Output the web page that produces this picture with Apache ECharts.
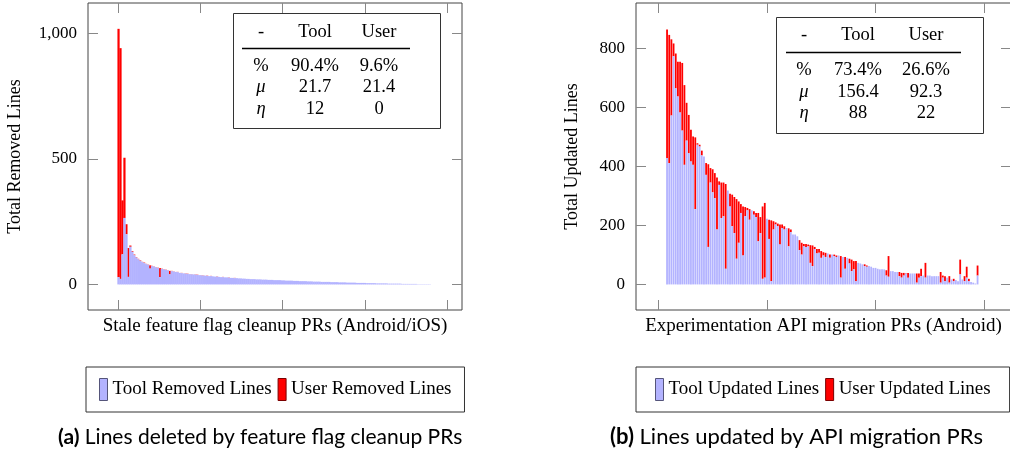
<!DOCTYPE html>
<html>
<head>
<meta charset="utf-8">
<script src="https://cdn.jsdelivr.net/npm/echarts@6/dist/echarts.min.js"></script>
<style>
html, body { margin: 0; padding: 0; background: #fff; }
#main { width: 1010px; height: 462px; }
</style>
</head>
<body>
<div id="main"></div>
<script>
// ---- (a) stale feature flag cleanup PRs, one bar per 12 PRs ----
var leftStep = 12;
var leftTool = [29,22,120,265,200,30,150,130,116,107,
    100,94,89,85,81,78,63,73,71,68,
    66,29,62,60,58,56,40,53,51,50,
    49,46,45,44,43,42,41,40,40,39,
    38,37,36,35,35,34,33,33,32,31,
    31,30,29,29,28,28,27,26,26,25,
    25,24,24,23,23,22,22,21,21,21,
    20,20,20,19,19,19,18,18,18,17,
    17,17,17,16,16,15,15,15,15,14,
    14,14,13,13,13,13,12,12,12,11,
    11,11,11,10,10,10,10,10,9,9,
    9,9,8,8,8,8,7,7,7,7,
    7,6,6,6,6,6,5,5,5,5,
    5,4,4,4,4,4,4,3,3,3,
    3,3,3,3,2,2,2,2,2,2,
    2,2,1,1,1,1,1,1,1,0];
var leftUser = [990,920,215,240,40,115,5,3,3,2,
    2,2,1,2,1,1,13,1,1,1,
    1,36,1,1,1,1,14,1,1,0,
    1,0,1,0,1,1,0,1,0,1,
    1,0,1,1,0,1,0,1,0,0,
    1,0,0,1,0,0,1,0,0,1];
var leftXTicks = [0, 500, 1000, 1500, 2000];
var leftYTicks = [0, 500, 1000];

// ---- (b) experimentation API migration PRs ----
var rightStart = 4;
var rightTool = [428,411,572,773,664,636,582,521,405,487,
    444,416,405,255,473,467,437,433,371,127,
    345,312,292,186,337,225,231,53,318,264,
    197,174,87,141,242,98,231,251,219,251,
    236,228,146,174,19,23,222,154,11,186,
    203,197,135,191,186,191,129,177,169,169,
    163,116,101,129,127,129,73,62,120,105,
    107,90,98,93,105,90,101,96,93,98,
    23,93,53,90,71,45,51,11,73,71,
    68,62,60,62,60,56,56,53,51,51,
    51,30,26,45,45,42,42,28,23,30,
    37,23,37,37,37,6,23,28,30,23,
    30,30,28,28,28,28,6,23,11,23,
    6,17,11,15,11,34,17,11,23,11,
    8,6,3,30];
var rightUser = [435,434,258,43,118,118,172,229,270,128,
    130,108,96,243,5,6,16,0,40,280,
    49,78,85,176,12,120,114,287,0,43,
    107,122,202,140,30,166,31,8,36,0,
    12,14,96,54,245,253,0,65,206,28,
    7,9,68,12,11,0,61,9,0,0,
    0,34,40,8,10,6,60,70,7,15,
    13,23,11,14,0,11,0,5,5,0,
    73,0,40,0,16,39,28,68,0,0,
    0,6,4,0,0,0,0,0,0,0,
    0,18,70,0,0,0,0,14,16,9,
    2,16,0,0,0,31,14,25,0,50,
    0,0,0,0,0,0,36,7,17,0,
    22,0,8,0,0,50,0,17,37,8,
    0,0,0,34];
var rightXTicks = [0, 50, 100, 150];
var rightYTicks = [0, 200, 400, 600, 800];

// summary tables
var leftTable = [['-', 'Tool', 'User'], ['%', '90.4%', '9.6%'], ['μ', '21.7', '21.4'], ['η', '12', '0']];
var rightTable = [['-', 'Tool', 'User'], ['%', '73.4%', '26.6%'], ['μ', '156.4', '92.3'], ['η', '88', '22']];

var SERIF = '"Liberation Serif", "DejaVu Serif", serif';
var SANS = 'Lato, "Noto Sans", sans-serif';
var BLUE = '#b3b3ff';
var RED = '#ff0000';

function pairs(arr, step, start) {
    return arr.map(function (v, i) { return [start + i * step, v]; });
}

// [x, tool, tool + user] : the user part is stacked on the tool bar
function stackedUser(tool, user, step, start) {
    return tool.map(function (v, i) { return [start + i * step, v, v + (user[i] || 0)]; });
}

// draws one user segment between tool and tool + user, width in px
function userSegment(width) {
    return function (params, api) {
        var lo = api.value(1), hi = api.value(2);
        if (hi <= lo) return null;
        var p0 = api.coord([api.value(0), lo]);
        var p1 = api.coord([api.value(0), hi]);
        return {
            type: 'rect',
            shape: {x: p0[0] - width / 2, y: p1[1], width: width, height: p0[1] - p1[1]},
            style: {fill: RED}
        };
    };
}

function fmtThousands(v) {
    return String(v).replace(/\B(?=(\d{3})+(?!\d))/g, ',');
}

// x axis for one panel, plus a mirrored one on top for the inner ticks
function xAxes(gridIndex, min, max, ticks, name) {
    var tick = {inside: true, length: 10, lineStyle: {color: '#888', width: 1}, customValues: ticks};
    return [{
        type: 'value', gridIndex: gridIndex, min: min, max: max, position: 'bottom',
        axisLine: {show: false, onZero: false}, axisTick: tick, axisLabel: {show: false}, splitLine: {show: false},
        name: name, nameLocation: 'middle', nameGap: 7,
        nameTextStyle: {fontFamily: SERIF, fontSize: 19, color: '#000', verticalAlign: 'top'}
    }, {
        type: 'value', gridIndex: gridIndex, min: min, max: max, position: 'top',
        axisLine: {show: false, onZero: false}, axisTick: tick, axisLabel: {show: false}, splitLine: {show: false}
    }];
}

function yAxes(gridIndex, min, max, ticks, name, gap) {
    var tick = {inside: true, length: 10, lineStyle: {color: '#888', width: 1}, customValues: ticks};
    return [{
        type: 'value', gridIndex: gridIndex, min: min, max: max, position: 'left',
        axisLine: {show: false, onZero: false}, axisTick: tick, splitLine: {show: false},
        axisLabel: {customValues: ticks, margin: 11, fontFamily: SERIF, fontSize: 17, color: '#000',
            formatter: fmtThousands},
        name: name, nameLocation: 'middle', nameGap: gap, nameRotate: 90,
        nameTextStyle: {fontFamily: SERIF, fontSize: 18, color: '#000'}
    }, {
        type: 'value', gridIndex: gridIndex, min: min, max: max, position: 'right',
        axisLine: {show: false, onZero: false}, axisTick: tick, axisLabel: {show: false}, splitLine: {show: false}
    }];
}

function buildTable(tbl, ox, oy, w, h, cols, rows, rule) {
    var children = [{
        type: 'rect', shape: {x: 0.5, y: 0.5, width: w, height: h},
        style: {fill: '#fff', stroke: '#333', lineWidth: 1}
    }, {
        type: 'line', shape: {x1: rule[0], y1: rule[2], x2: rule[1], y2: rule[2]},
        style: {stroke: '#000', lineWidth: 1.3}
    }];
    tbl.forEach(function (row, r) {
        row.forEach(function (txt, c) {
            children.push({
                type: 'text',
                style: {
                    text: txt, x: cols[c], y: rows[r], align: 'center', verticalAlign: 'middle',
                    fontFamily: SERIF, fontSize: 18.5, fill: '#000',
                    fontStyle: (r > 1 && c === 0) ? 'italic' : 'normal'
                }
            });
        });
    });
    return {type: 'group', x: ox, y: oy, z: 100, children: children};
}

function caption(tag, text, x, size) {
    return {
        type: 'text', z: 100,
        style: {
            text: '{b|' + tag + '} ' + text, x: x, y: 437, align: 'left', verticalAlign: 'middle',
            fontFamily: SANS, fontSize: size, fill: '#000',
            rich: {b: {fontWeight: 'bold', fontFamily: SANS, fontSize: size}}
        }
    };
}

function legendFor(names, left, pad, borders) {
    return {
        data: names.map(function (n, i) { return {name: n, itemStyle: {borderColor: borders[i], borderWidth: 1}}; }),
        left: left, top: 367, orient: 'horizontal',
        icon: 'rect', itemWidth: 8, itemHeight: 22, itemGap: 6,
        borderColor: '#333', borderWidth: 1, padding: [11, pad],
        selectedMode: false,
        textStyle: {fontFamily: SERIF, fontSize: 19, color: '#000'}
    };
}

var chart = echarts.init(document.getElementById('main'), null, {renderer: 'canvas'});

var option = {
    animation: false,
    backgroundColor: '#fff',
    grid: [
        {left: 88, top: 3, width: 374, height: 307, show: true, borderColor: '#444', borderWidth: 1,
            containLabel: false, outerBoundsMode: 'none'},
        {left: 636, top: 3, width: 375, height: 307, show: true, borderColor: '#444', borderWidth: 1,
            containLabel: false, outerBoundsMode: 'none'}
    ],
    xAxis: xAxes(0, -186, 2092, leftXTicks, 'Stale feature flag cleanup PRs (Android/iOS)')
        .concat(xAxes(1, -10.3, 162.4, rightXTicks, 'Experimentation API migration PRs (Android)')),
    yAxis: yAxes(0, -102, 1122, leftYTicks, 'Total Removed Lines', 64)
        .concat(yAxes(1, -86.6, 953, rightYTicks, 'Total Updated Lines', 55)),
    legend: [
        legendFor(['Tool Removed Lines', 'User Removed Lines'], 86, 13, ['#55557a', '#7a0000']),
        legendFor(['Tool Updated Lines', 'User Updated Lines'], 636, 19, ['#55557a', '#7a0000'])
    ],
    series: [
        {name: 'Tool Removed Lines', type: 'bar', xAxisIndex: 0, yAxisIndex: 0,
            barWidth: 2.4, itemStyle: {color: BLUE},
            data: pairs(leftTool, leftStep, 0)},
        {name: 'User Removed Lines', type: 'custom', xAxisIndex: 0, yAxisIndex: 0,
            itemStyle: {color: RED}, encode: {x: 0, y: [1, 2]},
            renderItem: userSegment(2.2),
            data: stackedUser(leftTool, leftUser, leftStep, 0)},
        {name: 'Tool Updated Lines', type: 'bar', xAxisIndex: 2, yAxisIndex: 2,
            barWidth: 1.8, itemStyle: {color: BLUE},
            data: pairs(rightTool, 1, rightStart)},
        {name: 'User Updated Lines', type: 'custom', xAxisIndex: 2, yAxisIndex: 2,
            itemStyle: {color: RED}, encode: {x: 0, y: [1, 2]},
            renderItem: userSegment(1.8),
            data: stackedUser(rightTool, rightUser, 1, rightStart)}
    ],
    graphic: [
        buildTable(leftTable, 233, 13, 207, 115, [28, 82, 146], [19, 53, 74, 96], [9, 177, 35.5]),
        buildTable(rightTable, 776, 17, 207, 116, [28, 82, 150], [18, 53, 75, 96], [10, 185, 35.5]),
        caption('(a)', 'Lines deleted by feature flag cleanup PRs', 58, 21),
        caption('(b)', 'Lines updated by API migration PRs', 610, 22)
    ]
};

chart.setOption(option);
</script>
</body>
</html>
